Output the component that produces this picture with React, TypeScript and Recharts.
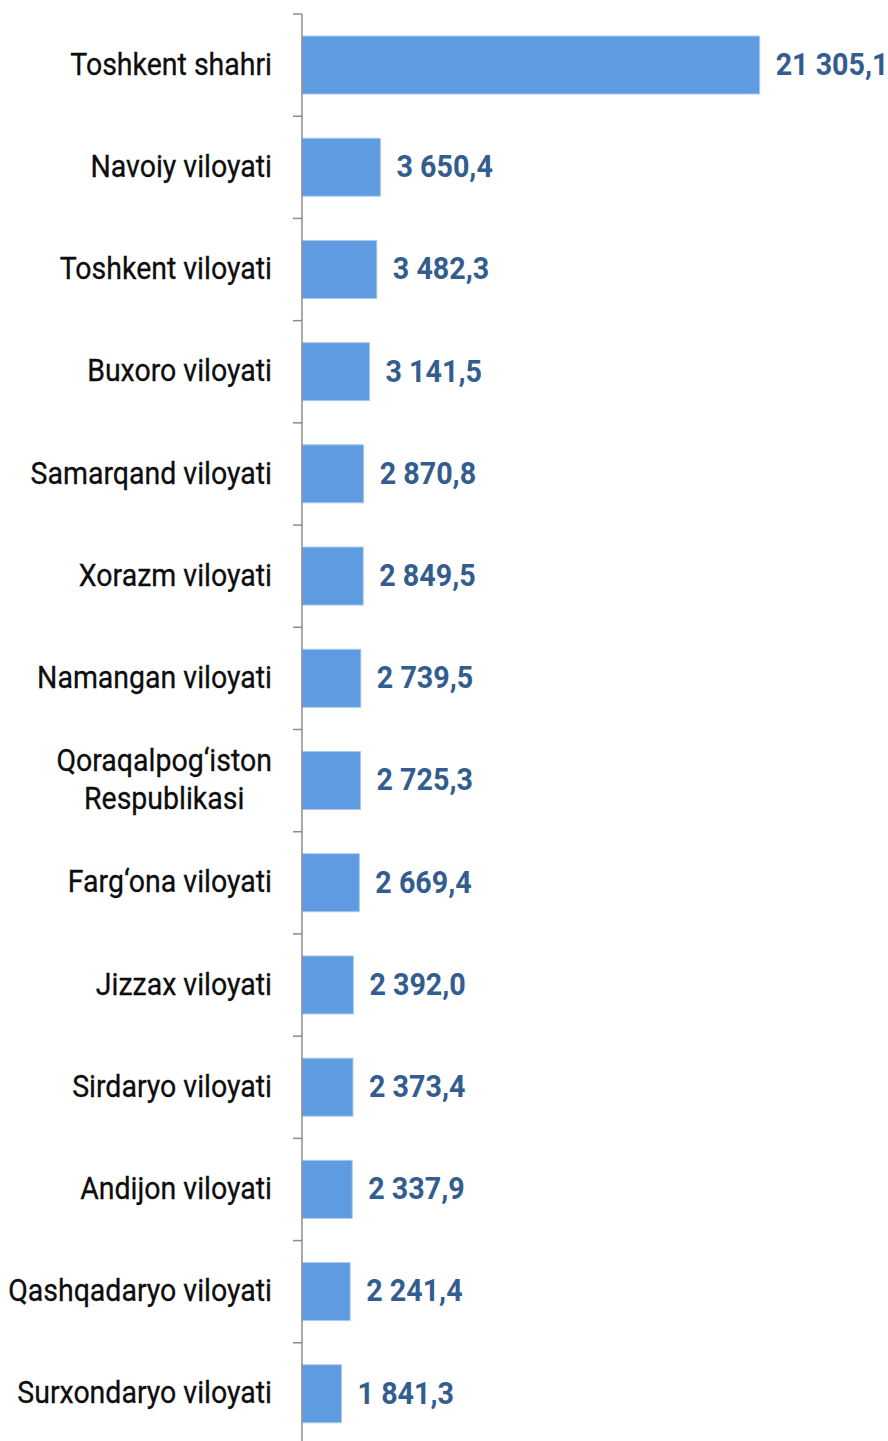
import { BarChart, Bar, XAxis, YAxis, LabelList } from "recharts";

const regions = [
  "Toshkent shahri",
  "Navoiy viloyati",
  "Toshkent viloyati",
  "Buxoro viloyati",
  "Samarqand viloyati",
  "Xorazm viloyati",
  "Namangan viloyati",
  "Qoraqalpog‘iston\nRespublikasi",
  "Farg‘ona viloyati",
  "Jizzax viloyati",
  "Sirdaryo viloyati",
  "Andijon viloyati",
  "Qashqadaryo viloyati",
  "Surxondaryo viloyati",
];

const values = [
  21305.1, 3650.4, 3482.3, 3141.5, 2870.8, 2849.5, 2739.5, 2725.3, 2669.4, 2392.0, 2373.4, 2337.9, 2241.4,
  1841.3,
];

const data = regions.map((name, i) => ({ name, value: values[i] }));

const W = 888;
const H = 1445;
const TOP = 14;
const AXIS_W = 302;
const BAND = (H - TOP) / regions.length;
const SX_CAT = 0.89; // squeeze Roboto toward the condensed look
const SX_VAL = 0.925;
const LABEL_FONT = "32px Roboto";

function textWidth(s: string, font: string) {
  const ctx = document.createElement("canvas").getContext("2d");
  if (!ctx) return s.length * 14;
  ctx.font = font;
  return ctx.measureText(s).width;
}

function fmt(v: number) {
  const [int, dec] = v.toFixed(1).split(".");
  return int.replace(/\B(?=(\d{3})+(?!\d))/g, " ") + "," + dec;
}

function CategoryTick(props: any) {
  const { x, y, payload } = props;
  const lines = String(payload.value).split("\n");
  const axisX = x + 8;
  const widest = Math.max(...lines.map((l) => textWidth(l, LABEL_FONT)));
  const lineH = 38;
  const startY = y - ((lines.length - 1) * lineH) / 2;
  return (
    <g>
      <line x1={axisX - 9} x2={axisX} y1={y - BAND / 2} y2={y - BAND / 2} stroke="#8c8c8c" strokeWidth={1.5} />
      <g transform={`translate(${axisX - 30},0) scale(${SX_CAT},1)`}>
        {lines.map((l, i) => (
          <text
            key={i}
            x={lines.length > 1 ? -widest / 2 : 0}
            y={startY + i * lineH}
            dy="0.3em"
            textAnchor={lines.length > 1 ? "middle" : "end"}
            fontFamily="Roboto"
            fontSize={32}
            fill="#0d0d0d"
            stroke="#0d0d0d"
            strokeWidth={0.3}
          >
            {l}
          </text>
        ))}
      </g>
    </g>
  );
}

function ValueLabel(props: any) {
  const { x, y, width, height, value } = props;
  const lx = x + width + 16;
  return (
    <g transform={`translate(${lx},${y + height / 2}) scale(${SX_VAL},1)`}>
      <text x={0} y={0} dy="0.32em" fontFamily="Roboto" fontWeight="bold" fontSize={31} fill="#335d8f">
        {fmt(value)}
      </text>
    </g>
  );
}

export default function App() {
  return (
    <div style={{ position: "absolute", left: 0, top: 0, width: W, height: 1441, overflow: "hidden", background: "#fff" }}>
      <BarChart
        width={W}
        height={H}
        data={data}
        layout="vertical"
        margin={{ top: TOP, right: 49, bottom: 0, left: 0 }}
      >
        <XAxis type="number" domain={[0, 25000]} hide />
        <YAxis
          type="category"
          dataKey="name"
          width={AXIS_W}
          axisLine={{ stroke: "#8c8c8c", strokeWidth: 1.5 }}
          tickLine={false}
          tick={<CategoryTick />}
          interval={0}
        />
        <Bar dataKey="value" fill="#5e9be0" stroke="#a9c9ef" strokeWidth={1} barSize={58} isAnimationActive={false}>
          <LabelList dataKey="value" content={<ValueLabel />} />
        </Bar>
      </BarChart>
    </div>
  );
}
